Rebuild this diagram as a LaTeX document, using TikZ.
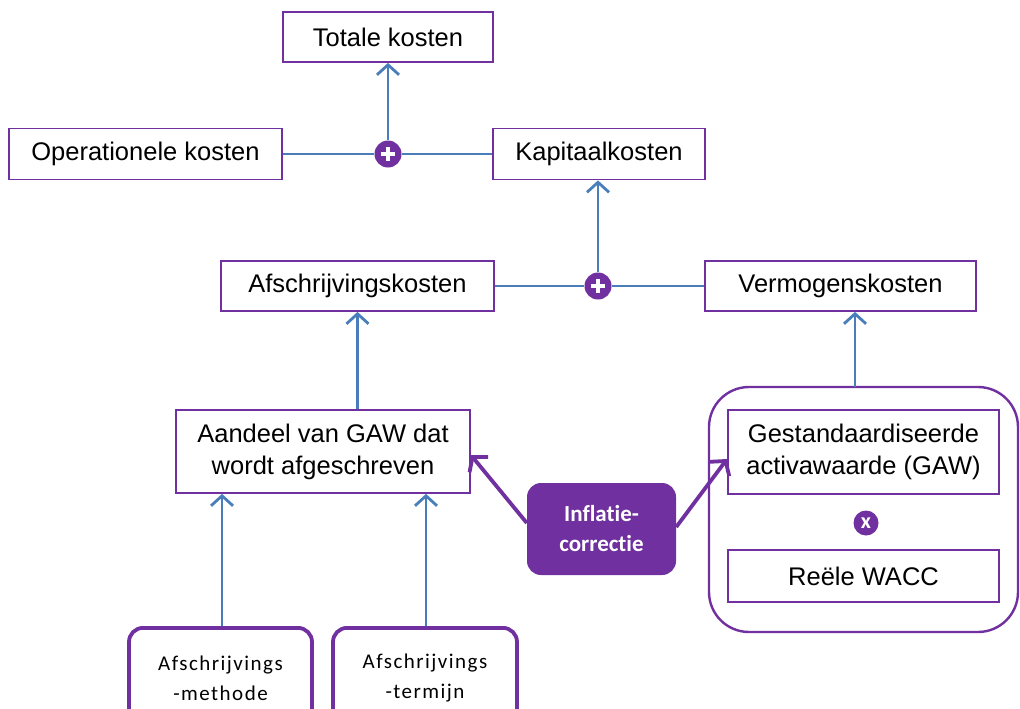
\documentclass[tikz,border=0pt]{standalone}
\usepackage{fontspec}
\setmainfont{Liberation Sans}
\newfontfamily\calib[Ligatures=NoCommon]{Carlito}
\newfontfamily\calibsp[LetterSpace=7,Ligatures=NoCommon]{Carlito}
\usetikzlibrary{arrows.meta,positioning,calc}
\definecolor{pur}{RGB}{112,48,160}
\definecolor{blu}{RGB}{74,126,187}
\tikzset{
  box/.style={draw=pur, line width=1.8pt, fill=white, align=center, font=\fontsize{25.5}{31}\selectfont, inner sep=0pt},
  rbox/.style={draw=pur, line width=3.8pt, rounded corners=14pt, align=center, font=\calibsp\fontsize{21}{30}\selectfont, inner sep=0pt},
  conn/.style={draw=blu, line width=2.8pt},
  arr/.style={conn, -{Straight Barb[length=10pt, width=22pt, line width=2.8pt]}},
  parr/.style={draw=pur, line width=3.8pt, -{Straight Barb[length=10pt, width=24pt, line width=3.8pt]}},
  op/.style={circle, fill=pur, minimum size=27pt, inner sep=0pt},
  opsign/.style={draw=white, line width=3.4pt},
}
\begin{document}
\begin{tikzpicture}[x=1pt,y=-1pt]
\useasboundingbox (0,0) rectangle (1020,709);
% container
\draw[draw=pur, line width=2.4pt, rounded corners=40pt] (709,387) rectangle (1018,632);
\node[draw=none, inner sep=0pt, minimum size=0pt] (cont) at (855,387) {};
% top level
\node[box, minimum width=210pt, minimum height=50pt] (tot) at (388,37) {Totale kosten};
\node[box, minimum width=273pt, minimum height=51pt] (op) at (145.5,154) {Operationele kosten};
\node[box, minimum width=212pt, minimum height=51pt] (kap) at (599,154) {Kapitaalkosten};
\node[op] (p1) at (388,154) {};
\draw[opsign] ($(p1)+(-7,0)$) -- ($(p1)+(7,0)$) ($(p1)+(0,-7)$) -- ($(p1)+(0,7)$);
% second level
\node[box, minimum width=273pt, minimum height=50pt] (afs) at (357.5,286) {Afschrijvingskosten};
\node[box, minimum width=271pt, minimum height=50pt] (ver) at (840.5,286) {Vermogenskosten};
\node[op] (p2) at (598,286) {};
\draw[opsign] ($(p2)+(-7,0)$) -- ($(p2)+(7,0)$) ($(p2)+(0,-7)$) -- ($(p2)+(0,7)$);
% third level
\node[box, minimum width=294pt, minimum height=83pt, font=\fontsize{25.5}{32}\selectfont] (aan) at (323,451.5) {Aandeel van GAW dat\\wordt afgeschreven};
\node[box, minimum width=271pt, minimum height=84pt, font=\fontsize{25.5}{32}\selectfont] (gaw) at (863.5,452) {Gestandaardiseerde\\activawaarde (GAW)};
\node[box, minimum width=271pt, minimum height=52pt] (wacc) at (863.5,576) {Reële WACC};
\node[op, minimum size=25pt, text=white, font=\bfseries\calib\fontsize{22}{22}\selectfont] (x) at (866,523) {x};
% inflation
\node[fill=pur, rounded corners=14pt, minimum width=149pt, minimum height=92pt, text=white, align=center, font=\calib\bfseries\fontsize{23}{30}\selectfont, inner sep=0pt] (inf) at (601.5,529) {Inflatie-\\correctie};
% bottom boxes
\node[rbox, minimum width=183pt, minimum height=100pt, anchor=north] (meth) at (220.5,626) {Afschrijvings\\-methode};
\node[rbox, minimum width=184pt, minimum height=100pt, anchor=north] (term) at (425,626) {Afschrijvings\\-termijn};
% connectors
\draw[conn] (op.east) -- (p1.west);
\draw[conn] (p1.east) -- (kap.west);
\draw[arr] (p1.north) -- (tot.south);
\draw[conn] (afs.east) -- (p2.west);
\draw[conn] (p2.east) -- (ver.west);
\draw[arr] (p2.north) -- (p2.north |- kap.south);
\draw[arr] (aan.north -| afs.south) -- (afs.south);
\draw[arr] (cont.center) -- (cont.center |- ver.south);
\draw[arr] (meth.north -| 222,0) -- (222,0 |- aan.south);
\draw[arr] (term.north -| 426,0) -- (426,0 |- aan.south);
\draw[parr] (inf.west |- 0,523) -- (aan.south east |- 0,455);
\draw[parr] (inf.east |- 0,527) -- (gaw.west |- 0,459);
\end{tikzpicture}
\end{document}
